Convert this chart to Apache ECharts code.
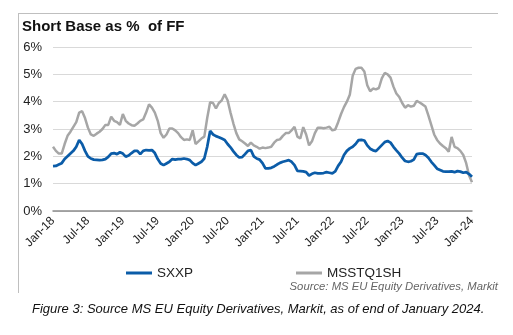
<!DOCTYPE html>
<html><head><meta charset="utf-8">
<script src="https://cdn.jsdelivr.net/npm/echarts@6/dist/echarts.min.js"></script>
<style>html,body{margin:0;padding:0;background:#fff}#c{width:513px;height:335px}</style>
</head><body><div id="c"></div>
<script>
// Half-monthly observations, Jan-18 .. Jan-24 (145 points)
const tickLabels = ['Jan-18','Jul-18','Jan-19','Jul-19','Jan-20','Jul-20','Jan-21','Jul-21','Jan-22','Jul-22','Jan-23','Jul-23','Jan-24'];
const sxxp = [1.64,1.65,1.7,1.75,1.9,2.0,2.1,2.2,2.35,2.6,2.45,2.2,2.0,1.92,1.88,1.87,1.86,1.87,1.9,1.98,
2.1,2.12,2.08,2.15,2.1,1.99,2.03,2.12,2.2,2.2,2.08,2.2,2.23,2.22,2.23,2.12,1.9,1.74,1.68,1.74,
1.8,1.9,1.88,1.9,1.9,1.92,1.9,1.86,1.75,1.68,1.74,1.8,1.92,2.35,2.93,2.8,2.74,2.7,2.65,2.6,
2.45,2.33,2.18,2.05,1.96,1.97,2.08,2.2,2.23,2.0,1.92,1.88,1.75,1.56,1.56,1.58,1.63,1.7,1.76,1.8,
1.83,1.86,1.8,1.68,1.47,1.46,1.45,1.42,1.3,1.36,1.4,1.38,1.38,1.39,1.42,1.4,1.38,1.45,1.65,1.8,
2.05,2.2,2.29,2.35,2.45,2.59,2.6,2.58,2.4,2.28,2.22,2.19,2.3,2.41,2.52,2.56,2.5,2.35,2.22,2.1,
1.95,1.83,1.8,1.82,1.88,2.08,2.1,2.1,2.05,1.95,1.8,1.68,1.55,1.5,1.45,1.44,1.44,1.45,1.42,1.46,
1.44,1.4,1.42,1.35,1.25];
const msstq1sh = [2.35,2.2,2.1,2.1,2.45,2.75,2.9,3.08,3.25,3.6,3.65,3.4,3.05,2.8,2.75,2.83,2.9,3.0,3.15,3.15,
3.45,3.3,3.25,3.15,3.55,3.3,3.2,3.14,3.12,3.2,3.3,3.35,3.6,3.9,3.78,3.6,3.3,2.85,2.68,2.8,
3.02,3.02,2.95,2.85,2.7,2.6,2.62,2.6,2.95,2.45,2.55,2.65,2.72,3.4,3.98,3.95,3.75,3.95,4.05,4.27,
4.05,3.6,3.2,2.85,2.62,2.55,2.47,2.38,2.5,2.4,2.35,2.28,2.32,2.3,2.32,2.35,2.5,2.6,2.62,2.75,
2.85,2.85,2.95,3.08,2.72,2.65,3.07,2.8,2.4,2.55,2.85,3.05,3.05,3.03,3.05,3.08,2.95,2.98,3.25,3.55,
3.8,4.0,4.25,4.95,5.2,5.24,5.24,5.1,4.6,4.38,4.48,4.45,4.5,4.85,5.05,5.0,4.88,4.55,4.3,4.17,
3.95,3.78,3.87,3.82,3.85,4.03,3.97,3.9,3.82,3.5,3.15,2.8,2.6,2.47,2.38,2.3,2.17,2.71,2.35,2.3,
2.2,2.05,1.75,1.3,1.05];
const categories = sxxp.map((_, i) => String(i));

const chart = echarts.init(document.getElementById('c'), null, {renderer:'canvas'});
const FONT = 'Liberation Sans, Arial, sans-serif';
const legendText = {fontSize:13.5,color:'#222',fontFamily:FONT};
chart.setOption({
  animation:false,
  textStyle:{fontFamily:FONT},
  grid:{left:53,right:41,top:47,bottom:124,containLabel:false},
  xAxis:{type:'category',data:categories,boundaryGap:false,
    axisLine:{lineStyle:{color:'#8c8c8c',width:1.5}},
    axisTick:{show:false},
    axisLabel:{rotate:45,fontSize:12,color:'#222',fontFamily:FONT,margin:8,
      interval:(i)=>i%12===0,
      formatter:(v,i)=>tickLabels[i/12]},
    splitLine:{show:false}},
  yAxis:{type:'value',min:0,max:6,interval:1,
    axisLine:{show:false},axisTick:{show:false},
    axisLabel:{formatter:'{value}%',fontSize:13,color:'#222',fontFamily:FONT,margin:11},
    splitLine:{lineStyle:{color:'#d9d9d9',width:1}}},
  legend:[
    {left:121,top:261,itemWidth:26,itemHeight:3,icon:'rect',textStyle:legendText,data:['SXXP']},
    {left:291,top:261,itemWidth:26,itemHeight:3,icon:'rect',textStyle:legendText,data:['MSSTQ1SH']}
  ],
  series:[
    {name:'MSSTQ1SH',type:'line',data:msstq1sh,showSymbol:false,smooth:false,
      lineStyle:{color:'#a6a6a6',width:2.5},itemStyle:{color:'#a6a6a6'},z:2},
    {name:'SXXP',type:'line',data:sxxp,showSymbol:false,smooth:false,
      lineStyle:{color:'#0b5ca8',width:2.75},itemStyle:{color:'#0b5ca8'},z:3}
  ],
  graphic:[
    {type:'line',shape:{x1:18,y1:13.5,x2:498,y2:13.5},style:{stroke:'#bfbfbf',lineWidth:1}},
    {type:'line',shape:{x1:18.5,y1:13,x2:18.5,y2:293},style:{stroke:'#bfbfbf',lineWidth:1}},
    {type:'text',left:22,top:19,style:{text:'Short Base as %  of FF',font:'bold 15px '+FONT,fill:'#111'}},
    {type:'text',right:15,top:281,style:{text:'Source: MS EU Equity Derivatives, Markit',font:'italic 11.3px '+FONT,fill:'#666'}},
    {type:'text',left:32,top:303,style:{text:'Figure 3: Source MS EU Equity Derivatives, Markit, as of end of January 2024.',font:'italic 13px '+FONT,fill:'#111'}}
  ]
});
</script></body></html>
